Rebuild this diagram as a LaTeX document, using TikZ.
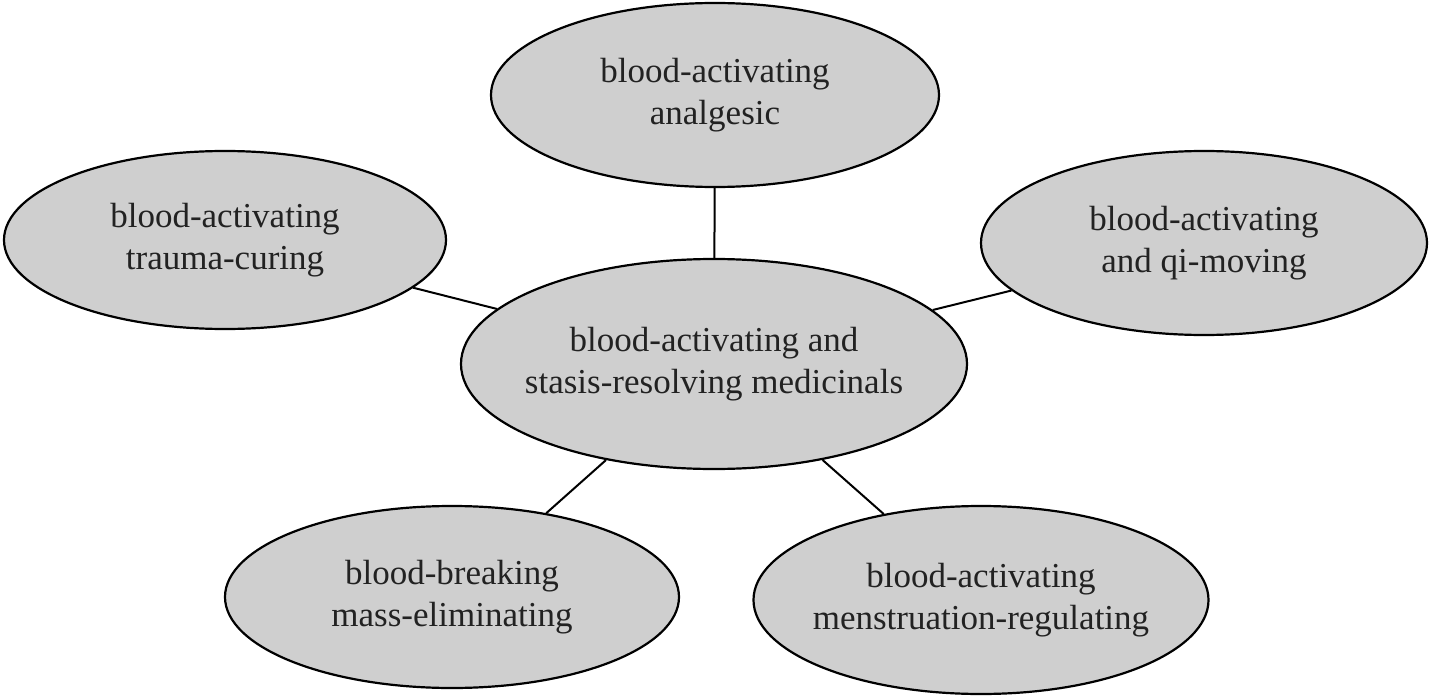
\documentclass[tikz,border=0pt]{standalone}
\usepackage{fontspec}
\setmainfont{Liberation Serif}
\usetikzlibrary{shapes.geometric}
\definecolor{ellfill}{HTML}{CFCFCF}
\definecolor{txt}{HTML}{222222}
\begin{document}
\begin{tikzpicture}[x=1pt,y=-1pt,
  bubble/.style={ellipse,draw=black,line width=2.2pt,fill=ellfill,inner ysep=0pt,inner xsep=-60pt,
    text=txt,align=center,font=\fontsize{35}{42}\selectfont},
  link/.style={draw=black,line width=2pt}]
\useasboundingbox (0,0) rectangle (1430,698);
\node[bubble,minimum width=448pt,minimum height=184pt] (top) at (715,95) {blood-activating\\analgesic};
\node[bubble,minimum width=442pt,minimum height=178pt] (left) at (225,240) {blood-activating\\trauma-curing};
\node[bubble,minimum width=446pt,minimum height=184pt] (right) at (1204,243) {blood-activating\\and qi-moving};
\node[bubble,minimum width=506pt,minimum height=210pt] (center) at (714,364) {blood-activating and\\stasis-resolving medicinals};
\node[bubble,minimum width=454pt,minimum height=182pt] (bl) at (452,597) {blood-breaking\\mass-eliminating};
\node[bubble,minimum width=455pt,minimum height=188pt] (br) at (981,600) {blood-activating\\menstruation-regulating};
\draw[link] (center) -- (top);
\draw[link] (center) -- (left);
\draw[link] (center) -- (right);
\draw[link] (center) -- (bl);
\draw[link] (center) -- (br);
\end{tikzpicture}
\end{document}
